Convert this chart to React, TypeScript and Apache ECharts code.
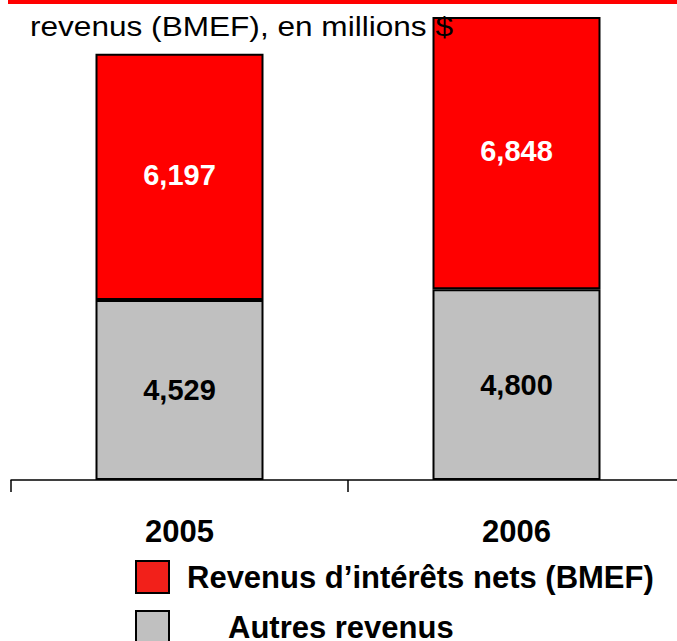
import React, { useEffect, useRef } from "react";
import * as echarts from "echarts";

const categories = ["2005", "2006"];
const autresRevenus = [4529, 4800];
const revenusInterets = [6197, 6848];
const seriesNames = ["Revenus d’intérêts nets (BMEF)", "Autres revenus"];
const titleText = "revenus (BMEF), en millions $";

const FONT = '"Liberation Sans", Arial, Helvetica, sans-serif';

export default function App() {
  const ref = useRef<HTMLDivElement>(null);
  useEffect(() => {
    if (!ref.current) return;
    const chart = echarts.init(ref.current, null, { renderer: "svg" });
    const fmt = (p: any) => Number(p.value).toLocaleString("en-US");
    chart.setOption({
      animation: false,
      backgroundColor: "#ffffff",
      grid: { left: 11, top: 3, width: 674, height: 477, containLabel: false },
      xAxis: {
        type: "category",
        data: categories,
        boundaryGap: true,
        axisLine: { show: true, lineStyle: { color: "#000", width: 1.5 } },
        axisTick: { show: true, length: 12, alignWithLabel: false, lineStyle: { color: "#000", width: 1.5 } },
        axisLabel: { margin: 36, color: "#000", fontSize: 31, fontWeight: "bold", fontFamily: FONT },
      },
      yAxis: { type: "value", min: 0, max: 12000, show: false, splitLine: { show: false } },
      legend: {
        orient: "vertical",
        left: 135,
        top: 560,
        height: 90,
        padding: 0,
        itemWidth: 33,
        itemHeight: 32,
        itemGap: 16,
        icon: "rect",
        selectedMode: false,
        itemStyle: { borderColor: "#000", borderWidth: 2 },
        data: [
          { name: seriesNames[0], itemStyle: { color: "#f2201a" } },
          { name: seriesNames[1], itemStyle: { color: "#c0c0c0" } },
        ],
        formatter: (name: string) => (name === seriesNames[1] ? "{b|" + name + "}" : "{a|" + name + "}"),
        textStyle: {
          color: "#000",
          fontSize: 31,
          fontWeight: "bold",
          fontFamily: FONT,
          lineHeight: 29,
          rich: {
            a: { padding: [0, 0, 0, 13], fontSize: 31, lineHeight: 29, fontWeight: "bold", fontFamily: FONT, color: "#000" },
            b: { padding: [0, 0, 0, 54], fontSize: 31, lineHeight: 29, fontWeight: "bold", fontFamily: FONT, color: "#000" },
          },
        },
      },
      series: [
        {
          name: seriesNames[1],
          type: "bar",
          stack: "total",
          barWidth: 168,
          data: autresRevenus,
          itemStyle: { color: "#c0c0c0", borderColor: "#000", borderWidth: 2 },
          label: { show: true, position: "inside", formatter: fmt, color: "#000", fontSize: 29, fontWeight: "bold", fontFamily: FONT },
        },
        {
          name: seriesNames[0],
          type: "bar",
          stack: "total",
          barWidth: 168,
          data: revenusInterets,
          itemStyle: { color: "#ff0000", borderColor: "#000", borderWidth: 2 },
          label: { show: true, position: "inside", offset: [0, -2], formatter: fmt, color: "#fff", fontSize: 29, fontWeight: "bold", fontFamily: FONT },
        },
      ],
      graphic: [
        { type: "rect", z: 100, shape: { x: 8, y: 0, width: 669, height: 4 }, style: { fill: "#ff0000" } },
        {
          type: "text",
          z: 100,
          x: 30,
          y: 26,
          scaleX: 1.17,
          style: { text: titleText, fill: "#000", font: "27px " + FONT, textAlign: "left", textVerticalAlign: "middle", verticalAlign: "middle" },
        },
      ],
    });
    return () => chart.dispose();
  }, []);
  return <div ref={ref} style={{ position: "fixed", left: 0, top: 0, width: 700, height: 641 }} />;
}
